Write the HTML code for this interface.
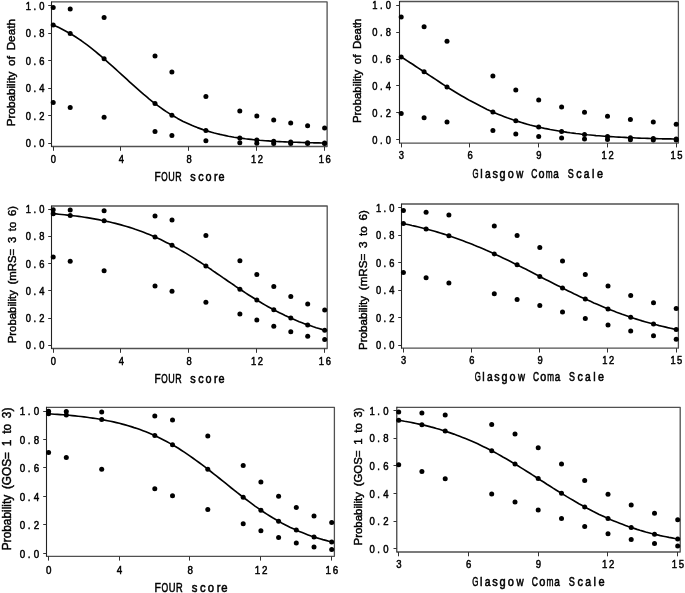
<!DOCTYPE html>
<html><head><meta charset="utf-8"><title>Figure</title>
<style>
html,body{margin:0;padding:0;background:#fff;}
body{width:685px;height:593px;overflow:hidden;font-family:"Liberation Sans",sans-serif;}
svg{display:block;filter:grayscale(100%);}
text{font-family:"Liberation Sans",sans-serif;fill:#000;stroke:#000;stroke-width:0.3px;}
.t{font-size:10.8px;text-anchor:middle;stroke-width:0.5px;}
.xl{font-size:12.3px;text-anchor:middle;stroke-width:0.55px;}
.yl{font-size:12.4px;text-anchor:middle;stroke-width:0.45px;word-spacing:2.5px;}
.fr{stroke:#505050;stroke-width:1.3;fill:none;stroke-linejoin:round;}
.ax{stroke:#222;stroke-width:1.1;fill:none;}
.tk{stroke:#333;stroke-width:1;fill:none;}
.cv{stroke:#000;stroke-width:1.65;fill:none;stroke-linejoin:round;}
.d{fill:#000;}
</style></head><body>
<svg width="685" height="593" viewBox="0 0 685 593">
<rect x="0" y="0" width="685" height="593" fill="#fff"/>

<g>
<path class="fr" d="M51.5 1.9H327.1V146.5H51.5"/>
<path class="ax" d="M51.5 1.4V147.0"/>
<text class="t" style="font-size:10.78px" transform="scale(0.87,1)" x="32.7 40.0 48.2" y="147.5">0.0</text>
<text class="t" style="font-size:10.78px" transform="scale(0.87,1)" x="32.7 40.0 48.2" y="120.0">0.2</text>
<text class="t" style="font-size:10.78px" transform="scale(0.87,1)" x="32.7 40.0 48.2" y="92.5">0.4</text>
<text class="t" style="font-size:10.78px" transform="scale(0.87,1)" x="32.7 40.0 48.2" y="64.9">0.6</text>
<text class="t" style="font-size:10.78px" transform="scale(0.87,1)" x="32.7 40.0 48.2" y="37.4">0.8</text>
<text class="t" style="font-size:10.78px" transform="scale(0.87,1)" x="32.7 40.0 48.2" y="9.9">1.0</text>
<text class="t" style="font-size:10.78px" transform="scale(0.87,1)" x="61.4" y="162.6">0</text>
<text class="t" style="font-size:10.78px" transform="scale(0.87,1)" x="139.4" y="162.6">4</text>
<text class="t" style="font-size:10.78px" transform="scale(0.87,1)" x="217.4" y="162.6">8</text>
<text class="t" style="font-size:10.78px" transform="scale(0.87,1)" x="291.4 299.2" y="162.6">12</text>
<text class="t" style="font-size:10.78px" transform="scale(0.87,1)" x="369.4 377.2" y="162.6">16</text>
<path class="tk" d="M48.2 143.5H51.5M48.2 115.5H51.5M48.2 88.5H51.5M48.2 60.5H51.5M48.2 33.5H51.5M48.2 5.5H51.5M53.5 146.5V150.8M120.5 146.5V150.8M188.5 146.5V150.8M256.5 146.5V150.8M324.5 146.5V150.8"/>
<polyline class="cv" points="53.2,24.9 56.0,26.2 58.9,27.6 61.7,29.0 64.5,30.5 67.3,32.0 70.2,33.6 73.0,35.3 75.8,37.0 78.6,38.9 81.5,40.8 84.3,42.9 87.1,44.9 90.0,47.1 92.8,49.3 95.6,51.6 98.4,54.0 101.3,56.3 104.1,58.8 106.9,61.3 109.7,63.8 112.6,66.3 115.4,68.9 118.2,71.5 121.1,74.1 123.9,76.7 126.7,79.2 129.5,81.8 132.4,84.4 135.2,86.9 138.0,89.4 140.8,91.9 143.7,94.4 146.5,96.7 149.3,99.1 152.1,101.3 155.0,103.5 157.8,105.7 160.6,107.7 163.5,109.7 166.3,111.6 169.1,113.4 171.9,115.2 174.8,116.8 177.6,118.4 180.4,119.9 183.2,121.4 186.1,122.7 188.9,124.0 191.7,125.3 194.6,126.5 197.4,127.6 200.2,128.6 203.0,129.6 205.9,130.5 208.7,131.4 211.5,132.2 214.3,133.0 217.2,133.7 220.0,134.4 222.8,135.0 225.7,135.6 228.5,136.2 231.3,136.7 234.1,137.2 237.0,137.6 239.8,138.0 242.6,138.4 245.4,138.8 248.3,139.1 251.1,139.4 253.9,139.7 256.8,140.0 259.6,140.3 262.4,140.5 265.2,140.7 268.1,140.9 270.9,141.1 273.7,141.3 276.5,141.5 279.4,141.6 282.2,141.8 285.0,141.9 287.8,142.0 290.7,142.1 293.5,142.2 296.3,142.3 299.2,142.4 302.0,142.5 304.8,142.6 307.6,142.7 310.5,142.7 313.3,142.8 316.1,142.8 318.9,142.9 321.8,143.0 324.6,143.0"/>
<circle class="d" cx="53.2" cy="7.5" r="2.5"/>
<circle class="d" cx="53.2" cy="24.9" r="2.5"/>
<circle class="d" cx="53.2" cy="102.5" r="2.5"/>
<circle class="d" cx="70.2" cy="9.0" r="2.5"/>
<circle class="d" cx="70.2" cy="33.6" r="2.5"/>
<circle class="d" cx="70.2" cy="107.4" r="2.5"/>
<circle class="d" cx="104.1" cy="17.5" r="2.5"/>
<circle class="d" cx="104.1" cy="58.8" r="2.5"/>
<circle class="d" cx="104.1" cy="117.3" r="2.5"/>
<circle class="d" cx="155.0" cy="56.0" r="2.5"/>
<circle class="d" cx="155.0" cy="103.5" r="2.5"/>
<circle class="d" cx="155.0" cy="131.5" r="2.5"/>
<circle class="d" cx="171.9" cy="72.0" r="2.5"/>
<circle class="d" cx="171.9" cy="115.2" r="2.5"/>
<circle class="d" cx="171.9" cy="135.5" r="2.5"/>
<circle class="d" cx="205.9" cy="96.6" r="2.5"/>
<circle class="d" cx="205.9" cy="130.5" r="2.5"/>
<circle class="d" cx="205.9" cy="140.7" r="2.5"/>
<circle class="d" cx="239.8" cy="111.1" r="2.5"/>
<circle class="d" cx="239.8" cy="138.0" r="2.5"/>
<circle class="d" cx="239.8" cy="142.8" r="2.5"/>
<circle class="d" cx="256.8" cy="116.0" r="2.5"/>
<circle class="d" cx="256.8" cy="140.0" r="2.5"/>
<circle class="d" cx="256.8" cy="143.2" r="2.5"/>
<circle class="d" cx="273.7" cy="119.9" r="2.5"/>
<circle class="d" cx="273.7" cy="141.3" r="2.5"/>
<circle class="d" cx="273.7" cy="143.4" r="2.5"/>
<circle class="d" cx="290.7" cy="123.1" r="2.5"/>
<circle class="d" cx="290.7" cy="142.1" r="2.5"/>
<circle class="d" cx="290.7" cy="143.5" r="2.5"/>
<circle class="d" cx="307.6" cy="125.8" r="2.5"/>
<circle class="d" cx="307.6" cy="142.7" r="2.5"/>
<circle class="d" cx="307.6" cy="143.6" r="2.5"/>
<circle class="d" cx="324.6" cy="128.1" r="2.5"/>
<circle class="d" cx="324.6" cy="143.0" r="2.5"/>
<circle class="d" cx="324.6" cy="143.6" r="2.5"/>
<text class="xl" style="font-size:12.28px" transform="translate(157.65,180.5) scale(0.818,1)">F</text>
<text class="xl" style="font-size:12.28px" transform="translate(164.44,180.5) scale(0.669,1)">O</text>
<text class="xl" style="font-size:12.28px" transform="translate(171.43,180.5) scale(0.730,1)">U</text>
<text class="xl" style="font-size:12.28px" transform="translate(178.32,180.5) scale(0.722,1)">R</text>
<text class="xl" style="font-size:12.28px" transform="translate(192.85,180.5) scale(0.880,1)">s</text>
<text class="xl" style="font-size:12.28px" transform="translate(200.88,180.5) scale(0.880,1)">c</text>
<text class="xl" style="font-size:12.28px" transform="translate(208.52,180.5) scale(0.880,1)">o</text>
<text class="xl" style="font-size:12.28px" transform="translate(215.81,180.5) scale(0.880,1)">r</text>
<text class="xl" style="font-size:12.28px" transform="translate(221.40,180.5) scale(0.880,1)">e</text>
<text class="yl" style="font-size:11.50px" transform="translate(15.3,72.7) rotate(-90)" textLength="107.2" lengthAdjust="spacingAndGlyphs">Probability of Death</text>
</g>
<g>
<path class="fr" d="M399.5 1.5H678.4V143.1H399.5"/>
<path class="ax" d="M399.5 1.0V143.6"/>
<text class="t" style="font-size:10.80px" transform="scale(0.87,1)" x="430.8 438.2 446.3" y="143.9">0.0</text>
<text class="t" style="font-size:10.80px" transform="scale(0.87,1)" x="430.8 438.2 446.3" y="117.0">0.2</text>
<text class="t" style="font-size:10.80px" transform="scale(0.87,1)" x="430.8 438.2 446.3" y="90.1">0.4</text>
<text class="t" style="font-size:10.80px" transform="scale(0.87,1)" x="430.8 438.2 446.3" y="63.1">0.6</text>
<text class="t" style="font-size:10.80px" transform="scale(0.87,1)" x="430.8 438.2 446.3" y="36.2">0.8</text>
<text class="t" style="font-size:10.80px" transform="scale(0.87,1)" x="430.8 438.2 446.3" y="9.3">1.0</text>
<text class="t" style="font-size:10.80px" transform="scale(0.87,1)" x="461.4" y="159.2">3</text>
<text class="t" style="font-size:10.80px" transform="scale(0.87,1)" x="540.4" y="159.2">6</text>
<text class="t" style="font-size:10.80px" transform="scale(0.87,1)" x="619.4" y="159.2">9</text>
<text class="t" style="font-size:10.80px" transform="scale(0.87,1)" x="694.5 702.4" y="159.2">12</text>
<text class="t" style="font-size:10.80px" transform="scale(0.87,1)" x="773.6 781.4" y="159.2">15</text>
<path class="tk" d="M396.2 139.5H399.5M396.2 112.5H399.5M396.2 85.5H399.5M396.2 59.5H399.5M396.2 32.5H399.5M396.2 5.5H399.5M401.5 143.1V147.4M469.5 143.1V147.4M538.5 143.1V147.4M607.5 143.1V147.4M676.5 143.1V147.4"/>
<polyline class="cv" points="401.2,56.9 404.1,58.7 406.9,60.6 409.8,62.5 412.7,64.3 415.5,66.2 418.4,68.1 421.3,70.0 424.1,71.8 427.0,73.7 429.8,75.6 432.7,77.5 435.6,79.4 438.4,81.3 441.3,83.2 444.2,85.1 447.0,86.9 449.9,88.7 452.8,90.5 455.6,92.2 458.5,94.0 461.4,95.7 464.2,97.3 467.1,99.0 469.9,100.6 472.8,102.1 475.7,103.6 478.5,105.1 481.4,106.6 484.3,108.0 487.1,109.4 490.0,110.7 492.9,112.0 495.7,113.2 498.6,114.4 501.5,115.6 504.3,116.7 507.2,117.8 510.1,118.8 512.9,119.8 515.8,120.7 518.6,121.6 521.5,122.5 524.4,123.4 527.2,124.2 530.1,125.0 533.0,125.7 535.8,126.4 538.7,127.1 541.6,127.7 544.4,128.4 547.3,128.9 550.2,129.5 553.0,130.0 555.9,130.5 558.8,131.0 561.6,131.5 564.5,131.9 567.3,132.4 570.2,132.8 573.1,133.1 575.9,133.5 578.8,133.8 581.7,134.2 584.5,134.5 587.4,134.8 590.3,135.0 593.1,135.3 596.0,135.6 598.9,135.8 601.7,136.0 604.6,136.2 607.5,136.4 610.3,136.6 613.2,136.8 616.0,137.0 618.9,137.1 621.8,137.3 624.6,137.4 627.5,137.6 630.4,137.7 633.2,137.8 636.1,138.0 639.0,138.1 641.8,138.2 644.7,138.3 647.6,138.4 650.4,138.5 653.3,138.5 656.1,138.6 659.0,138.7 661.9,138.8 664.7,138.8 667.6,138.9 670.5,138.9 673.3,139.0 676.2,139.1"/>
<circle class="d" cx="401.2" cy="16.9" r="2.5"/>
<circle class="d" cx="401.2" cy="56.9" r="2.5"/>
<circle class="d" cx="401.2" cy="113.6" r="2.5"/>
<circle class="d" cx="424.1" cy="26.7" r="2.5"/>
<circle class="d" cx="424.1" cy="71.8" r="2.5"/>
<circle class="d" cx="424.1" cy="117.8" r="2.5"/>
<circle class="d" cx="447.0" cy="41.2" r="2.5"/>
<circle class="d" cx="447.0" cy="86.9" r="2.5"/>
<circle class="d" cx="447.0" cy="122.0" r="2.5"/>
<circle class="d" cx="492.9" cy="76.0" r="2.5"/>
<circle class="d" cx="492.9" cy="112.0" r="2.5"/>
<circle class="d" cx="492.9" cy="130.5" r="2.5"/>
<circle class="d" cx="515.8" cy="89.9" r="2.5"/>
<circle class="d" cx="515.8" cy="120.7" r="2.5"/>
<circle class="d" cx="515.8" cy="133.9" r="2.5"/>
<circle class="d" cx="538.7" cy="100.0" r="2.5"/>
<circle class="d" cx="538.7" cy="127.1" r="2.5"/>
<circle class="d" cx="538.7" cy="136.5" r="2.5"/>
<circle class="d" cx="561.6" cy="107.1" r="2.5"/>
<circle class="d" cx="561.6" cy="131.5" r="2.5"/>
<circle class="d" cx="561.6" cy="138.1" r="2.5"/>
<circle class="d" cx="584.5" cy="112.3" r="2.5"/>
<circle class="d" cx="584.5" cy="134.5" r="2.5"/>
<circle class="d" cx="584.5" cy="139.1" r="2.5"/>
<circle class="d" cx="607.5" cy="116.3" r="2.5"/>
<circle class="d" cx="607.5" cy="136.4" r="2.5"/>
<circle class="d" cx="607.5" cy="139.5" r="2.5"/>
<circle class="d" cx="630.4" cy="119.5" r="2.5"/>
<circle class="d" cx="630.4" cy="137.7" r="2.5"/>
<circle class="d" cx="630.4" cy="139.8" r="2.5"/>
<circle class="d" cx="653.3" cy="122.1" r="2.5"/>
<circle class="d" cx="653.3" cy="138.5" r="2.5"/>
<circle class="d" cx="653.3" cy="139.9" r="2.5"/>
<circle class="d" cx="676.2" cy="124.2" r="2.5"/>
<circle class="d" cx="676.2" cy="139.1" r="2.5"/>
<circle class="d" cx="676.2" cy="140.0" r="2.5"/>
<text class="xl" style="font-size:12.30px" transform="translate(475.65,177.5) scale(0.634,1)">G</text>
<text class="xl" style="font-size:12.30px" transform="translate(481.45,177.5) scale(0.880,1)">l</text>
<text class="xl" style="font-size:12.30px" transform="translate(487.95,177.5) scale(0.836,1)">a</text>
<text class="xl" style="font-size:12.30px" transform="translate(495.10,177.5) scale(0.880,1)">s</text>
<text class="xl" style="font-size:12.30px" transform="translate(502.55,177.5) scale(0.880,1)">g</text>
<text class="xl" style="font-size:12.30px" transform="translate(510.65,177.5) scale(0.880,1)">o</text>
<text class="xl" style="font-size:12.30px" transform="translate(519.75,177.5) scale(0.792,1)">w</text>
<text class="xl" style="font-size:12.30px" transform="translate(534.30,177.5) scale(0.686,1)">C</text>
<text class="xl" style="font-size:12.30px" transform="translate(541.60,177.5) scale(0.880,1)">o</text>
<text class="xl" style="font-size:12.30px" transform="translate(549.20,177.5) scale(0.669,1)">m</text>
<text class="xl" style="font-size:12.30px" transform="translate(556.10,177.5) scale(0.810,1)">a</text>
<text class="xl" style="font-size:12.30px" transform="translate(570.70,177.5) scale(0.730,1)">S</text>
<text class="xl" style="font-size:12.30px" transform="translate(579.00,177.5) scale(0.880,1)">c</text>
<text class="xl" style="font-size:12.30px" transform="translate(586.70,177.5) scale(0.836,1)">a</text>
<text class="xl" style="font-size:12.30px" transform="translate(593.20,177.5) scale(0.880,1)">l</text>
<text class="xl" style="font-size:12.30px" transform="translate(599.90,177.5) scale(0.880,1)">e</text>
<text class="yl" style="font-size:11.21px" transform="translate(361.4,70.8) rotate(-90)" textLength="104.5" lengthAdjust="spacingAndGlyphs">Probability of Death</text>
</g>
<g>
<path class="fr" d="M51.5 206.0H327.2V348.5H51.5"/>
<path class="ax" d="M51.5 205.5V349.0"/>
<text class="t" style="font-size:10.79px" transform="scale(0.87,1)" x="32.7 40.0 48.2" y="349.5">0.0</text>
<text class="t" style="font-size:10.79px" transform="scale(0.87,1)" x="32.7 40.0 48.2" y="322.3">0.2</text>
<text class="t" style="font-size:10.79px" transform="scale(0.87,1)" x="32.7 40.0 48.2" y="295.0">0.4</text>
<text class="t" style="font-size:10.79px" transform="scale(0.87,1)" x="32.7 40.0 48.2" y="267.8">0.6</text>
<text class="t" style="font-size:10.79px" transform="scale(0.87,1)" x="32.7 40.0 48.2" y="240.5">0.8</text>
<text class="t" style="font-size:10.79px" transform="scale(0.87,1)" x="32.7 40.0 48.2" y="213.3">1.0</text>
<text class="t" style="font-size:10.79px" transform="scale(0.87,1)" x="61.4" y="364.6">0</text>
<text class="t" style="font-size:10.79px" transform="scale(0.87,1)" x="139.4" y="364.6">4</text>
<text class="t" style="font-size:10.79px" transform="scale(0.87,1)" x="217.4" y="364.6">8</text>
<text class="t" style="font-size:10.79px" transform="scale(0.87,1)" x="291.5 299.3" y="364.6">12</text>
<text class="t" style="font-size:10.79px" transform="scale(0.87,1)" x="369.5 377.4" y="364.6">16</text>
<path class="tk" d="M48.2 345.5H51.5M48.2 318.5H51.5M48.2 290.5H51.5M48.2 263.5H51.5M48.2 236.5H51.5M48.2 209.5H51.5M53.5 348.5V352.8M120.5 348.5V352.8M188.5 348.5V352.8M256.5 348.5V352.8M324.5 348.5V352.8"/>
<polyline class="cv" points="53.2,213.7 56.0,213.9 58.9,214.2 61.7,214.5 64.5,214.8 67.3,215.1 70.2,215.4 73.0,215.7 75.8,216.0 78.7,216.4 81.5,216.8 84.3,217.2 87.1,217.6 90.0,218.1 92.8,218.6 95.6,219.1 98.5,219.6 101.3,220.2 104.1,220.7 106.9,221.4 109.8,222.0 112.6,222.7 115.4,223.4 118.2,224.1 121.1,224.9 123.9,225.7 126.7,226.5 129.6,227.4 132.4,228.3 135.2,229.3 138.0,230.2 140.9,231.3 143.7,232.3 146.5,233.4 149.4,234.6 152.2,235.8 155.0,237.0 157.8,238.3 160.7,239.6 163.5,241.0 166.3,242.4 169.2,243.8 172.0,245.3 174.8,246.9 177.6,248.4 180.5,250.1 183.3,251.7 186.1,253.4 188.9,255.1 191.8,256.9 194.6,258.6 197.4,260.5 200.3,262.3 203.1,264.1 205.9,266.0 208.7,267.9 211.6,269.8 214.4,271.8 217.2,273.7 220.1,275.6 222.9,277.6 225.7,279.5 228.5,281.5 231.4,283.4 234.2,285.3 237.0,287.3 239.9,289.2 242.7,291.0 245.5,292.9 248.3,294.7 251.2,296.5 254.0,298.3 256.8,300.1 259.7,301.8 262.5,303.5 265.3,305.1 268.1,306.7 271.0,308.3 273.8,309.8 276.6,311.3 279.4,312.7 282.3,314.1 285.1,315.5 287.9,316.8 290.8,318.1 293.6,319.3 296.4,320.5 299.2,321.7 302.1,322.8 304.9,323.9 307.7,324.9 310.6,325.8 313.4,326.8 316.2,327.7 319.0,328.5 321.9,329.4 324.7,330.2"/>
<circle class="d" cx="53.2" cy="209.7" r="2.5"/>
<circle class="d" cx="53.2" cy="213.7" r="2.5"/>
<circle class="d" cx="53.2" cy="256.9" r="2.5"/>
<circle class="d" cx="70.2" cy="209.9" r="2.5"/>
<circle class="d" cx="70.2" cy="215.4" r="2.5"/>
<circle class="d" cx="70.2" cy="261.3" r="2.5"/>
<circle class="d" cx="104.1" cy="210.8" r="2.5"/>
<circle class="d" cx="104.1" cy="220.7" r="2.5"/>
<circle class="d" cx="104.1" cy="270.7" r="2.5"/>
<circle class="d" cx="155.0" cy="215.9" r="2.5"/>
<circle class="d" cx="155.0" cy="237.0" r="2.5"/>
<circle class="d" cx="155.0" cy="286.0" r="2.5"/>
<circle class="d" cx="172.0" cy="220.1" r="2.5"/>
<circle class="d" cx="172.0" cy="245.3" r="2.5"/>
<circle class="d" cx="172.0" cy="291.3" r="2.5"/>
<circle class="d" cx="205.9" cy="235.4" r="2.5"/>
<circle class="d" cx="205.9" cy="266.0" r="2.5"/>
<circle class="d" cx="205.9" cy="302.2" r="2.5"/>
<circle class="d" cx="239.9" cy="260.8" r="2.5"/>
<circle class="d" cx="239.9" cy="289.2" r="2.5"/>
<circle class="d" cx="239.9" cy="313.9" r="2.5"/>
<circle class="d" cx="256.8" cy="274.5" r="2.5"/>
<circle class="d" cx="256.8" cy="300.1" r="2.5"/>
<circle class="d" cx="256.8" cy="320.1" r="2.5"/>
<circle class="d" cx="273.8" cy="286.6" r="2.5"/>
<circle class="d" cx="273.8" cy="309.8" r="2.5"/>
<circle class="d" cx="273.8" cy="326.2" r="2.5"/>
<circle class="d" cx="290.8" cy="296.5" r="2.5"/>
<circle class="d" cx="290.8" cy="318.1" r="2.5"/>
<circle class="d" cx="290.8" cy="331.7" r="2.5"/>
<circle class="d" cx="307.7" cy="304.1" r="2.5"/>
<circle class="d" cx="307.7" cy="324.9" r="2.5"/>
<circle class="d" cx="307.7" cy="336.3" r="2.5"/>
<circle class="d" cx="324.7" cy="310.1" r="2.5"/>
<circle class="d" cx="324.7" cy="330.2" r="2.5"/>
<circle class="d" cx="324.7" cy="339.6" r="2.5"/>
<text class="xl" style="font-size:12.29px" transform="translate(157.68,382.5) scale(0.818,1)">F</text>
<text class="xl" style="font-size:12.29px" transform="translate(164.48,382.5) scale(0.669,1)">O</text>
<text class="xl" style="font-size:12.29px" transform="translate(171.47,382.5) scale(0.730,1)">U</text>
<text class="xl" style="font-size:12.29px" transform="translate(178.36,382.5) scale(0.722,1)">R</text>
<text class="xl" style="font-size:12.29px" transform="translate(192.90,382.5) scale(0.880,1)">s</text>
<text class="xl" style="font-size:12.29px" transform="translate(200.94,382.5) scale(0.880,1)">c</text>
<text class="xl" style="font-size:12.29px" transform="translate(208.58,382.5) scale(0.880,1)">o</text>
<text class="xl" style="font-size:12.29px" transform="translate(215.87,382.5) scale(0.880,1)">r</text>
<text class="xl" style="font-size:12.29px" transform="translate(221.47,382.5) scale(0.880,1)">e</text>
<text class="yl" style="font-size:11.47px" transform="translate(16.2,274.6) rotate(-90)" textLength="137.5" lengthAdjust="spacingAndGlyphs">Probability (mRS= 3 to 6)</text>
</g>
<g>
<path class="fr" d="M401.5 204.0H678.4V348.2H401.5"/>
<path class="ax" d="M401.5 203.5V348.7"/>
<text class="t" style="font-size:10.72px" transform="scale(0.87,1)" x="435.1 442.4 450.5" y="349.1">0.0</text>
<text class="t" style="font-size:10.72px" transform="scale(0.87,1)" x="435.1 442.4 450.5" y="321.6">0.2</text>
<text class="t" style="font-size:10.72px" transform="scale(0.87,1)" x="435.1 442.4 450.5" y="294.2">0.4</text>
<text class="t" style="font-size:10.72px" transform="scale(0.87,1)" x="435.1 442.4 450.5" y="266.8">0.6</text>
<text class="t" style="font-size:10.72px" transform="scale(0.87,1)" x="435.1 442.4 450.5" y="239.3">0.8</text>
<text class="t" style="font-size:10.72px" transform="scale(0.87,1)" x="435.1 442.4 450.5" y="211.9">1.0</text>
<text class="t" style="font-size:10.72px" transform="scale(0.87,1)" x="463.9" y="364.2">3</text>
<text class="t" style="font-size:10.72px" transform="scale(0.87,1)" x="542.3" y="364.2">6</text>
<text class="t" style="font-size:10.72px" transform="scale(0.87,1)" x="620.7" y="364.2">9</text>
<text class="t" style="font-size:10.72px" transform="scale(0.87,1)" x="695.2 703.0" y="364.2">12</text>
<text class="t" style="font-size:10.72px" transform="scale(0.87,1)" x="773.6 781.3" y="364.2">15</text>
<path class="tk" d="M398.2 345.5H401.5M398.2 317.5H401.5M398.2 290.5H401.5M398.2 262.5H401.5M398.2 235.5H401.5M398.2 207.5H401.5M403.5 348.2V352.5M471.5 348.2V352.5M539.5 348.2V352.5M607.5 348.2V352.5M676.5 348.2V352.5"/>
<polyline class="cv" points="403.4,223.6 406.2,224.2 409.1,224.8 411.9,225.5 414.8,226.1 417.6,226.8 420.4,227.5 423.3,228.2 426.1,228.9 429.0,229.7 431.8,230.5 434.7,231.3 437.5,232.1 440.3,233.0 443.2,233.9 446.0,234.8 448.9,235.7 451.7,236.7 454.6,237.7 457.4,238.7 460.2,239.7 463.1,240.8 465.9,241.9 468.8,243.0 471.6,244.1 474.4,245.3 477.3,246.4 480.1,247.6 483.0,248.8 485.8,250.1 488.6,251.3 491.5,252.6 494.3,253.9 497.2,255.2 500.0,256.5 502.9,257.9 505.7,259.2 508.5,260.6 511.4,262.0 514.2,263.4 517.1,264.8 519.9,266.3 522.8,267.7 525.6,269.1 528.4,270.6 531.3,272.0 534.1,273.5 537.0,275.0 539.8,276.4 542.6,277.9 545.5,279.4 548.3,280.8 551.2,282.3 554.0,283.7 556.9,285.2 559.7,286.6 562.5,288.1 565.4,289.5 568.2,290.9 571.1,292.3 573.9,293.7 576.7,295.0 579.6,296.4 582.4,297.7 585.3,299.0 588.1,300.3 591.0,301.6 593.8,302.9 596.6,304.1 599.5,305.3 602.3,306.5 605.2,307.7 608.0,308.9 610.8,310.0 613.7,311.1 616.5,312.2 619.4,313.2 622.2,314.3 625.1,315.3 627.9,316.3 630.7,317.3 633.6,318.2 636.4,319.1 639.3,320.0 642.1,320.9 644.9,321.7 647.8,322.5 650.6,323.3 653.5,324.1 656.3,324.8 659.2,325.6 662.0,326.2 664.8,326.9 667.7,327.6 670.5,328.2 673.4,328.9 676.2,329.5"/>
<circle class="d" cx="403.4" cy="210.5" r="2.5"/>
<circle class="d" cx="403.4" cy="223.6" r="2.5"/>
<circle class="d" cx="403.4" cy="272.6" r="2.5"/>
<circle class="d" cx="426.1" cy="212.2" r="2.5"/>
<circle class="d" cx="426.1" cy="228.9" r="2.5"/>
<circle class="d" cx="426.1" cy="277.7" r="2.5"/>
<circle class="d" cx="448.9" cy="215.0" r="2.5"/>
<circle class="d" cx="448.9" cy="235.7" r="2.5"/>
<circle class="d" cx="448.9" cy="282.9" r="2.5"/>
<circle class="d" cx="494.3" cy="226.0" r="2.5"/>
<circle class="d" cx="494.3" cy="253.9" r="2.5"/>
<circle class="d" cx="494.3" cy="293.8" r="2.5"/>
<circle class="d" cx="517.1" cy="235.4" r="2.5"/>
<circle class="d" cx="517.1" cy="264.8" r="2.5"/>
<circle class="d" cx="517.1" cy="299.5" r="2.5"/>
<circle class="d" cx="539.8" cy="247.4" r="2.5"/>
<circle class="d" cx="539.8" cy="276.4" r="2.5"/>
<circle class="d" cx="539.8" cy="305.5" r="2.5"/>
<circle class="d" cx="562.5" cy="261.0" r="2.5"/>
<circle class="d" cx="562.5" cy="288.1" r="2.5"/>
<circle class="d" cx="562.5" cy="311.9" r="2.5"/>
<circle class="d" cx="585.3" cy="274.4" r="2.5"/>
<circle class="d" cx="585.3" cy="299.0" r="2.5"/>
<circle class="d" cx="585.3" cy="318.5" r="2.5"/>
<circle class="d" cx="608.0" cy="286.1" r="2.5"/>
<circle class="d" cx="608.0" cy="308.9" r="2.5"/>
<circle class="d" cx="608.0" cy="325.1" r="2.5"/>
<circle class="d" cx="630.7" cy="295.4" r="2.5"/>
<circle class="d" cx="630.7" cy="317.3" r="2.5"/>
<circle class="d" cx="630.7" cy="331.1" r="2.5"/>
<circle class="d" cx="653.5" cy="302.7" r="2.5"/>
<circle class="d" cx="653.5" cy="324.1" r="2.5"/>
<circle class="d" cx="653.5" cy="335.8" r="2.5"/>
<circle class="d" cx="676.2" cy="308.5" r="2.5"/>
<circle class="d" cx="676.2" cy="329.5" r="2.5"/>
<circle class="d" cx="676.2" cy="339.2" r="2.5"/>
<text class="xl" style="font-size:12.21px" transform="translate(477.70,381.2) scale(0.634,1)">G</text>
<text class="xl" style="font-size:12.21px" transform="translate(483.45,381.2) scale(0.880,1)">l</text>
<text class="xl" style="font-size:12.21px" transform="translate(489.91,381.2) scale(0.836,1)">a</text>
<text class="xl" style="font-size:12.21px" transform="translate(497.01,381.2) scale(0.880,1)">s</text>
<text class="xl" style="font-size:12.21px" transform="translate(504.40,381.2) scale(0.880,1)">g</text>
<text class="xl" style="font-size:12.21px" transform="translate(512.45,381.2) scale(0.880,1)">o</text>
<text class="xl" style="font-size:12.21px" transform="translate(521.48,381.2) scale(0.792,1)">w</text>
<text class="xl" style="font-size:12.21px" transform="translate(535.93,381.2) scale(0.686,1)">C</text>
<text class="xl" style="font-size:12.21px" transform="translate(543.17,381.2) scale(0.880,1)">o</text>
<text class="xl" style="font-size:12.21px" transform="translate(550.72,381.2) scale(0.669,1)">m</text>
<text class="xl" style="font-size:12.21px" transform="translate(557.57,381.2) scale(0.810,1)">a</text>
<text class="xl" style="font-size:12.21px" transform="translate(572.06,381.2) scale(0.730,1)">S</text>
<text class="xl" style="font-size:12.21px" transform="translate(580.30,381.2) scale(0.880,1)">c</text>
<text class="xl" style="font-size:12.21px" transform="translate(587.95,381.2) scale(0.836,1)">a</text>
<text class="xl" style="font-size:12.21px" transform="translate(594.40,381.2) scale(0.880,1)">l</text>
<text class="xl" style="font-size:12.21px" transform="translate(601.06,381.2) scale(0.880,1)">e</text>
<text class="yl" style="font-size:11.67px" transform="translate(367.4,280.1) rotate(-90)" textLength="139.8" lengthAdjust="spacingAndGlyphs">Probability (mRS= 3 to 6)</text>
</g>
<g>
<path class="fr" d="M46.5 407.3H334.4V556.3H46.5"/>
<path class="ax" d="M46.5 406.8V556.8"/>
<text class="t" style="font-size:11.27px" transform="scale(0.87,1)" x="25.8 33.4 41.9" y="557.6">0.0</text>
<text class="t" style="font-size:11.27px" transform="scale(0.87,1)" x="25.8 33.4 41.9" y="529.1">0.2</text>
<text class="t" style="font-size:11.27px" transform="scale(0.87,1)" x="25.8 33.4 41.9" y="500.6">0.4</text>
<text class="t" style="font-size:11.27px" transform="scale(0.87,1)" x="25.8 33.4 41.9" y="472.2">0.6</text>
<text class="t" style="font-size:11.27px" transform="scale(0.87,1)" x="25.8 33.4 41.9" y="443.7">0.8</text>
<text class="t" style="font-size:11.27px" transform="scale(0.87,1)" x="25.8 33.4 41.9" y="415.3">1.0</text>
<text class="t" style="font-size:11.27px" transform="scale(0.87,1)" x="56.1" y="573.6">0</text>
<text class="t" style="font-size:11.27px" transform="scale(0.87,1)" x="137.4" y="573.6">4</text>
<text class="t" style="font-size:11.27px" transform="scale(0.87,1)" x="218.8" y="573.6">8</text>
<text class="t" style="font-size:11.27px" transform="scale(0.87,1)" x="296.1 304.2" y="573.6">12</text>
<text class="t" style="font-size:11.27px" transform="scale(0.87,1)" x="377.4 385.6" y="573.6">16</text>
<path class="tk" d="M43.2 553.5H46.5M43.2 524.5H46.5M43.2 496.5H46.5M43.2 467.5H46.5M43.2 439.5H46.5M43.2 411.5H46.5M48.5 556.3V560.6M119.5 556.3V560.6M189.5 556.3V560.6M260.5 556.3V560.6M331.5 556.3V560.6"/>
<polyline class="cv" points="48.6,413.8 51.5,414.0 54.5,414.2 57.4,414.4 60.4,414.6 63.3,414.8 66.3,415.1 69.2,415.3 72.2,415.6 75.1,415.9 78.1,416.2 81.0,416.5 84.0,416.9 86.9,417.3 89.9,417.7 92.8,418.1 95.8,418.5 98.7,419.0 101.7,419.5 104.6,420.1 107.6,420.7 110.5,421.3 113.5,421.9 116.4,422.6 119.4,423.3 122.3,424.1 125.3,424.9 128.2,425.7 131.2,426.6 134.1,427.6 137.1,428.5 140.0,429.6 143.0,430.7 145.9,431.8 148.9,433.0 151.8,434.3 154.8,435.6 157.7,437.0 160.7,438.4 163.6,439.9 166.6,441.5 169.5,443.1 172.5,444.8 175.4,446.5 178.4,448.3 181.3,450.2 184.3,452.1 187.2,454.1 190.1,456.1 193.1,458.2 196.0,460.3 199.0,462.5 201.9,464.7 204.9,466.9 207.8,469.2 210.8,471.5 213.7,473.8 216.7,476.1 219.6,478.5 222.6,480.9 225.5,483.2 228.5,485.6 231.4,488.0 234.4,490.3 237.3,492.7 240.3,495.0 243.2,497.3 246.2,499.5 249.1,501.7 252.1,503.9 255.0,506.1 258.0,508.1 260.9,510.2 263.9,512.2 266.8,514.1 269.8,516.0 272.7,517.8 275.7,519.5 278.6,521.2 281.6,522.9 284.5,524.4 287.5,525.9 290.4,527.4 293.4,528.8 296.3,530.1 299.3,531.4 302.2,532.6 305.2,533.8 308.1,534.9 311.1,536.0 314.0,536.9 317.0,537.9 319.9,538.7 322.9,539.6 325.8,540.4 328.8,541.2 331.7,542.0"/>
<circle class="d" cx="48.6" cy="411.3" r="2.5"/>
<circle class="d" cx="48.6" cy="413.8" r="2.5"/>
<circle class="d" cx="48.6" cy="452.4" r="2.5"/>
<circle class="d" cx="66.3" cy="411.4" r="2.5"/>
<circle class="d" cx="66.3" cy="415.1" r="2.5"/>
<circle class="d" cx="66.3" cy="457.6" r="2.5"/>
<circle class="d" cx="101.7" cy="412.0" r="2.5"/>
<circle class="d" cx="101.7" cy="419.5" r="2.5"/>
<circle class="d" cx="101.7" cy="469.3" r="2.5"/>
<circle class="d" cx="154.8" cy="416.1" r="2.5"/>
<circle class="d" cx="154.8" cy="435.6" r="2.5"/>
<circle class="d" cx="154.8" cy="488.8" r="2.5"/>
<circle class="d" cx="172.5" cy="419.9" r="2.5"/>
<circle class="d" cx="172.5" cy="444.8" r="2.5"/>
<circle class="d" cx="172.5" cy="495.7" r="2.5"/>
<circle class="d" cx="207.8" cy="436.0" r="2.5"/>
<circle class="d" cx="207.8" cy="469.2" r="2.5"/>
<circle class="d" cx="207.8" cy="509.6" r="2.5"/>
<circle class="d" cx="243.2" cy="465.6" r="2.5"/>
<circle class="d" cx="243.2" cy="497.3" r="2.5"/>
<circle class="d" cx="243.2" cy="523.8" r="2.5"/>
<circle class="d" cx="260.9" cy="482.0" r="2.5"/>
<circle class="d" cx="260.9" cy="510.2" r="2.5"/>
<circle class="d" cx="260.9" cy="530.8" r="2.5"/>
<circle class="d" cx="278.6" cy="496.2" r="2.5"/>
<circle class="d" cx="278.6" cy="521.2" r="2.5"/>
<circle class="d" cx="278.6" cy="537.4" r="2.5"/>
<circle class="d" cx="296.3" cy="507.5" r="2.5"/>
<circle class="d" cx="296.3" cy="530.1" r="2.5"/>
<circle class="d" cx="296.3" cy="542.9" r="2.5"/>
<circle class="d" cx="314.0" cy="516.0" r="2.5"/>
<circle class="d" cx="314.0" cy="536.9" r="2.5"/>
<circle class="d" cx="314.0" cy="546.9" r="2.5"/>
<circle class="d" cx="331.7" cy="522.5" r="2.5"/>
<circle class="d" cx="331.7" cy="542.0" r="2.5"/>
<circle class="d" cx="331.7" cy="549.6" r="2.5"/>
<text class="xl" style="font-size:12.83px" transform="translate(157.78,591.5) scale(0.818,1)">F</text>
<text class="xl" style="font-size:12.83px" transform="translate(164.87,591.5) scale(0.669,1)">O</text>
<text class="xl" style="font-size:12.83px" transform="translate(172.17,591.5) scale(0.730,1)">U</text>
<text class="xl" style="font-size:12.83px" transform="translate(179.37,591.5) scale(0.722,1)">R</text>
<text class="xl" style="font-size:12.83px" transform="translate(194.55,591.5) scale(0.880,1)">s</text>
<text class="xl" style="font-size:12.83px" transform="translate(202.94,591.5) scale(0.880,1)">c</text>
<text class="xl" style="font-size:12.83px" transform="translate(210.92,591.5) scale(0.880,1)">o</text>
<text class="xl" style="font-size:12.83px" transform="translate(218.54,591.5) scale(0.880,1)">r</text>
<text class="xl" style="font-size:12.83px" transform="translate(224.38,591.5) scale(0.880,1)">e</text>
<text class="yl" style="font-size:11.89px" transform="translate(10.6,478.9) rotate(-90)" textLength="142.5" lengthAdjust="spacingAndGlyphs">Probability (GOS= 1 to 3)</text>
</g>
<g>
<path class="fr" d="M396.8 407.3H680.2V552.0H396.8"/>
<path class="ax" d="M396.8 406.8V552.5"/>
<text class="t" style="font-size:10.97px" transform="scale(0.87,1)" x="427.8 435.3 443.6" y="553.1">0.0</text>
<text class="t" style="font-size:10.97px" transform="scale(0.87,1)" x="427.8 435.3 443.6" y="525.4">0.2</text>
<text class="t" style="font-size:10.97px" transform="scale(0.87,1)" x="427.8 435.3 443.6" y="497.8">0.4</text>
<text class="t" style="font-size:10.97px" transform="scale(0.87,1)" x="427.8 435.3 443.6" y="470.1">0.6</text>
<text class="t" style="font-size:10.97px" transform="scale(0.87,1)" x="427.8 435.3 443.6" y="442.5">0.8</text>
<text class="t" style="font-size:10.97px" transform="scale(0.87,1)" x="427.8 435.3 443.6" y="414.9">1.0</text>
<text class="t" style="font-size:10.97px" transform="scale(0.87,1)" x="458.5" y="568.4">3</text>
<text class="t" style="font-size:10.97px" transform="scale(0.87,1)" x="538.7" y="568.4">6</text>
<text class="t" style="font-size:10.97px" transform="scale(0.87,1)" x="618.9" y="568.4">9</text>
<text class="t" style="font-size:10.97px" transform="scale(0.87,1)" x="695.1 703.0" y="568.4">12</text>
<text class="t" style="font-size:10.97px" transform="scale(0.87,1)" x="775.2 783.2" y="568.4">15</text>
<path class="tk" d="M393.5 548.5H396.8M393.5 521.5H396.8M393.5 493.5H396.8M393.5 465.5H396.8M393.5 438.5H396.8M393.5 410.5H396.8M398.5 552.0V556.3M468.5 552.0V556.3M538.5 552.0V556.3M607.5 552.0V556.3M677.5 552.0V556.3"/>
<polyline class="cv" points="398.7,420.2 401.6,420.7 404.5,421.3 407.4,421.8 410.3,422.3 413.2,422.9 416.1,423.5 419.0,424.1 421.9,424.7 424.9,425.4 427.8,426.1 430.7,426.9 433.6,427.6 436.5,428.5 439.4,429.3 442.3,430.2 445.2,431.1 448.1,432.1 451.0,433.1 453.9,434.1 456.8,435.2 459.7,436.3 462.6,437.4 465.5,438.6 468.4,439.8 471.4,441.0 474.3,442.3 477.2,443.6 480.1,445.0 483.0,446.4 485.9,447.8 488.8,449.3 491.7,450.8 494.6,452.3 497.5,453.9 500.4,455.5 503.3,457.2 506.2,458.8 509.1,460.5 512.0,462.3 515.0,464.0 517.9,465.8 520.8,467.6 523.7,469.4 526.6,471.2 529.5,473.0 532.4,474.9 535.3,476.7 538.2,478.6 541.1,480.5 544.0,482.3 546.9,484.2 549.8,486.0 552.7,487.9 555.6,489.7 558.5,491.5 561.5,493.3 564.4,495.1 567.3,496.9 570.2,498.6 573.1,500.3 576.0,502.0 578.9,503.7 581.8,505.3 584.7,506.9 587.6,508.5 590.5,510.0 593.4,511.5 596.3,512.9 599.2,514.4 602.1,515.7 605.0,517.1 608.0,518.4 610.9,519.7 613.8,520.9 616.7,522.1 619.6,523.2 622.5,524.3 625.4,525.4 628.3,526.5 631.2,527.5 634.1,528.4 637.0,529.4 639.9,530.3 642.8,531.1 645.7,532.0 648.6,532.7 651.5,533.5 654.5,534.2 657.4,534.9 660.3,535.6 663.2,536.2 666.1,536.8 669.0,537.4 671.9,537.9 674.8,538.5 677.7,539.0"/>
<circle class="d" cx="398.7" cy="412.0" r="2.5"/>
<circle class="d" cx="398.7" cy="420.2" r="2.5"/>
<circle class="d" cx="398.7" cy="464.8" r="2.5"/>
<circle class="d" cx="421.9" cy="413.1" r="2.5"/>
<circle class="d" cx="421.9" cy="424.7" r="2.5"/>
<circle class="d" cx="421.9" cy="471.6" r="2.5"/>
<circle class="d" cx="445.2" cy="415.0" r="2.5"/>
<circle class="d" cx="445.2" cy="431.1" r="2.5"/>
<circle class="d" cx="445.2" cy="478.8" r="2.5"/>
<circle class="d" cx="491.7" cy="424.5" r="2.5"/>
<circle class="d" cx="491.7" cy="450.8" r="2.5"/>
<circle class="d" cx="491.7" cy="494.0" r="2.5"/>
<circle class="d" cx="515.0" cy="434.1" r="2.5"/>
<circle class="d" cx="515.0" cy="464.0" r="2.5"/>
<circle class="d" cx="515.0" cy="502.0" r="2.5"/>
<circle class="d" cx="538.2" cy="447.7" r="2.5"/>
<circle class="d" cx="538.2" cy="478.6" r="2.5"/>
<circle class="d" cx="538.2" cy="510.1" r="2.5"/>
<circle class="d" cx="561.5" cy="464.1" r="2.5"/>
<circle class="d" cx="561.5" cy="493.3" r="2.5"/>
<circle class="d" cx="561.5" cy="518.4" r="2.5"/>
<circle class="d" cx="584.7" cy="480.4" r="2.5"/>
<circle class="d" cx="584.7" cy="506.9" r="2.5"/>
<circle class="d" cx="584.7" cy="526.5" r="2.5"/>
<circle class="d" cx="608.0" cy="494.3" r="2.5"/>
<circle class="d" cx="608.0" cy="518.4" r="2.5"/>
<circle class="d" cx="608.0" cy="533.8" r="2.5"/>
<circle class="d" cx="631.2" cy="505.1" r="2.5"/>
<circle class="d" cx="631.2" cy="527.5" r="2.5"/>
<circle class="d" cx="631.2" cy="539.6" r="2.5"/>
<circle class="d" cx="654.5" cy="513.3" r="2.5"/>
<circle class="d" cx="654.5" cy="534.2" r="2.5"/>
<circle class="d" cx="654.5" cy="543.6" r="2.5"/>
<circle class="d" cx="677.7" cy="519.7" r="2.5"/>
<circle class="d" cx="677.7" cy="539.0" r="2.5"/>
<circle class="d" cx="677.7" cy="546.0" r="2.5"/>
<text class="xl" style="font-size:12.50px" transform="translate(475.25,586.2) scale(0.634,1)">G</text>
<text class="xl" style="font-size:12.50px" transform="translate(481.14,586.2) scale(0.880,1)">l</text>
<text class="xl" style="font-size:12.50px" transform="translate(487.74,586.2) scale(0.836,1)">a</text>
<text class="xl" style="font-size:12.50px" transform="translate(495.01,586.2) scale(0.880,1)">s</text>
<text class="xl" style="font-size:12.50px" transform="translate(502.58,586.2) scale(0.880,1)">g</text>
<text class="xl" style="font-size:12.50px" transform="translate(510.81,586.2) scale(0.880,1)">o</text>
<text class="xl" style="font-size:12.50px" transform="translate(520.06,586.2) scale(0.792,1)">w</text>
<text class="xl" style="font-size:12.50px" transform="translate(534.84,586.2) scale(0.686,1)">C</text>
<text class="xl" style="font-size:12.50px" transform="translate(542.26,586.2) scale(0.880,1)">o</text>
<text class="xl" style="font-size:12.50px" transform="translate(549.98,586.2) scale(0.669,1)">m</text>
<text class="xl" style="font-size:12.50px" transform="translate(556.99,586.2) scale(0.810,1)">a</text>
<text class="xl" style="font-size:12.50px" transform="translate(571.83,586.2) scale(0.730,1)">S</text>
<text class="xl" style="font-size:12.50px" transform="translate(580.26,586.2) scale(0.880,1)">c</text>
<text class="xl" style="font-size:12.50px" transform="translate(588.09,586.2) scale(0.836,1)">a</text>
<text class="xl" style="font-size:12.50px" transform="translate(594.69,586.2) scale(0.880,1)">l</text>
<text class="xl" style="font-size:12.50px" transform="translate(601.50,586.2) scale(0.880,1)">e</text>
<text class="yl" style="font-size:11.53px" transform="translate(361.9,476.4) rotate(-90)" textLength="138.1" lengthAdjust="spacingAndGlyphs">Probability (GOS= 1 to 3)</text>
</g>
</svg></body></html>
